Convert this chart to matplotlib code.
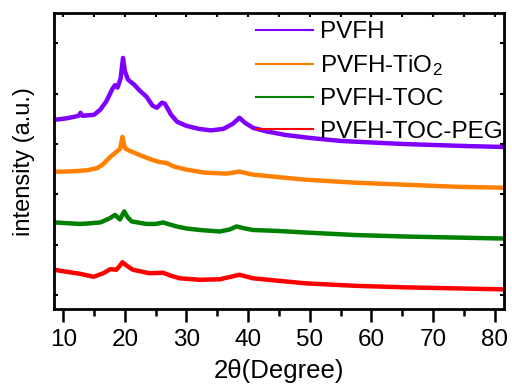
import matplotlib
matplotlib.use("Agg")
import matplotlib.pyplot as plt
from matplotlib.ticker import MultipleLocator

plt.rcParams['font.family'] = ['Liberation Sans', 'DejaVu Sans']
plt.rcParams['mathtext.fontset'] = 'custom'
plt.rcParams['mathtext.rm'] = 'Liberation Sans'
plt.rcParams['mathtext.it'] = 'Liberation Sans:italic'

# ---- data ----
labels = ["PVFH", "PVFH-TiO$_2$", "PVFH-TOC", "PVFH-TOC-PEG"]
colors = ["#7f00ff", "#ff8000", "#008000", "#ff0000"]

x_pvfh = [8.5, 10, 11, 12.5, 12.8, 13.1, 15, 16, 17, 18, 18.4, 18.8, 19.3, 19.7, 20.0, 20.5, 21.5,
          22.5, 23.5, 24.5, 25.2, 26.0, 26.5, 27.5, 28.5, 30, 32, 34, 36, 37.5, 38.6, 39.5, 40.8,
          43, 46, 50, 55, 60, 65, 70, 75, 81.5]
y_pvfh = [3.48, 3.50, 3.52, 3.56, 3.62, 3.56, 3.58, 3.68, 3.85, 4.10, 4.17, 4.12, 4.30, 4.71, 4.45,
          4.28, 4.18, 4.05, 3.94, 3.76, 3.72, 3.82, 3.80, 3.58, 3.44, 3.36, 3.30, 3.27, 3.30, 3.40,
          3.52, 3.42, 3.32, 3.25, 3.18, 3.12, 3.06, 3.03, 3.00, 2.98, 2.96, 2.94]

x_tio2 = [8.5, 10, 12, 14, 15.5, 16.5, 17.6, 18.6, 19.2, 19.6, 20.0, 20.5, 22.4, 24.5, 25.7, 26.8,
          28, 30, 33, 36.5, 38.6, 40.8, 45, 49.3, 57.4, 65.5, 73.6, 81.5]
y_tio2 = [2.45, 2.45, 2.46, 2.48, 2.52, 2.60, 2.74, 2.84, 2.90, 3.14, 2.92, 2.88, 2.78, 2.68, 2.64,
          2.62, 2.55, 2.49, 2.43, 2.41, 2.45, 2.39, 2.34, 2.29, 2.23, 2.19, 2.15, 2.13]

x_toc = [8.5, 10, 12.7, 14, 16, 17.5, 18.4, 19.2, 19.9, 20.4, 21.1, 23.5, 25, 26.2, 27, 28.4, 30,
         32.2, 35.4, 37, 38.1, 39.5, 40.8, 45, 49.3, 57.4, 65.5, 73.6, 81.5]
y_toc = [1.44, 1.43, 1.41, 1.42, 1.44, 1.52, 1.59, 1.50, 1.66, 1.55, 1.46, 1.41, 1.41, 1.44, 1.41,
         1.36, 1.32, 1.29, 1.26, 1.30, 1.36, 1.32, 1.29, 1.27, 1.24, 1.19, 1.16, 1.14, 1.12]

x_peg = [8.5, 10, 12.7, 14.9, 16.5, 17.6, 18.6, 19.2, 19.6, 20.3, 21.3, 24.0, 26.2, 27.5, 28.9,
         32.2, 35.4, 38.6, 40.8, 45, 49.3, 57.4, 65.5, 73.6, 81.5]
y_peg = [0.50, 0.47, 0.42, 0.36, 0.43, 0.51, 0.50, 0.58, 0.65, 0.58, 0.50, 0.43, 0.44, 0.38, 0.33,
         0.30, 0.31, 0.40, 0.33, 0.28, 0.23, 0.18, 0.15, 0.13, 0.11]

xticks = [10, 20, 30, 40, 50, 60, 70, 80]

fig = plt.figure(figsize=(5.12, 3.87), dpi=100)
ax = fig.add_axes([0.1055, 0.2016, 0.8785, 0.7644])

series = [(x_pvfh, y_pvfh), (x_tio2, y_tio2), (x_toc, y_toc), (x_peg, y_peg)]
for (xs, ys), c, lab in zip(series, colors, labels):
    ax.plot(xs, ys, color=c, lw=3.2, label=lab, solid_joinstyle='round')

ax.set_xlim(8.5, 81.5)
ax.set_ylim(-0.28, 5.6)
ax.set_xticks(xticks)
ax.xaxis.set_minor_locator(MultipleLocator(5))
ax.yaxis.set_major_locator(MultipleLocator(1))
ax.set_yticklabels([])

for s in ax.spines.values():
    s.set_linewidth(2.0)

ax.tick_params(axis='x', which='major', direction='out', length=9.5, width=1.8,
               labelsize=17.5, pad=5, top=False)
ax.tick_params(axis='x', which='minor', direction='out', length=5, width=1.8, top=False)
ax.tick_params(axis='y', which='major', direction='in', length=3, width=1.5,
               left=True, right=True)

top = ax.secondary_xaxis('top')
top.set_xticks(list(range(10, 85, 5)))
top.tick_params(direction='in', length=3, width=1.5, labeltop=False)

ax.set_xlabel("2θ(Degree)", fontsize=18.5, labelpad=6)
ax.set_ylabel("intensity (a.u.)", fontsize=17, labelpad=10)

leg = ax.legend(loc='upper left', bbox_to_anchor=(0.427, 1.006), frameon=False, fontsize=17.5,
                handlelength=2.35, handletextpad=0.29, labelspacing=0.42, borderaxespad=0.0,
                borderpad=0.4)
for h in leg.get_lines():
    h.set_linewidth(1.5)

fig.savefig("out.png", dpi=100)
